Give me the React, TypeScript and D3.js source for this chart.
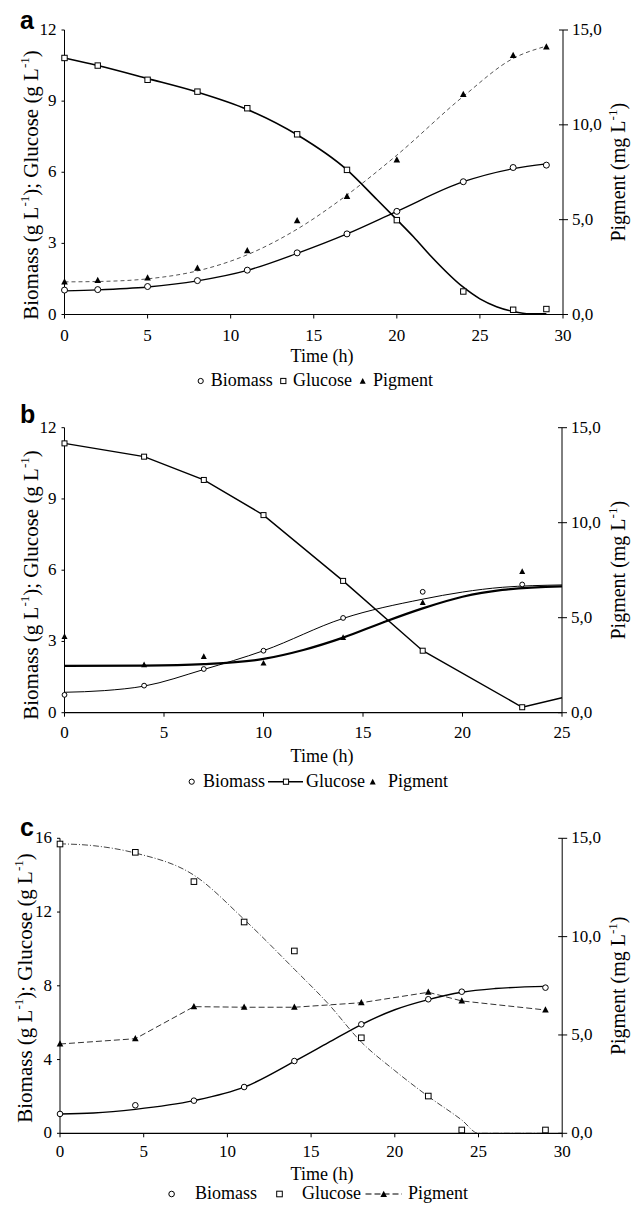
import React from "react";
import * as d3 from "d3";

// ---------- Panel a data ----------
const timeA = [0, 2, 5, 8, 11, 14, 17, 20, 24, 27, 29];
const biomassA = [1.03, 1.05, 1.18, 1.43, 1.87, 2.6, 3.4, 4.35, 5.6, 6.2, 6.3];
const glucoseA = [10.82, 10.5, 9.9, 9.4, 8.7, 7.6, 6.1, 3.98, 0.97, 0.2, 0.23];
const pigmentA = [1.71, 1.79, 1.92, 2.44, 3.36, 4.94, 6.22, 8.15, 11.6, 13.65, 14.1];
const fitBiomassA: [number, number][] = [[0, 1.0], [2, 1.04], [5, 1.16], [8, 1.42], [11, 1.86], [14, 2.58], [17, 3.4], [20, 4.35], [24, 5.6], [27, 6.15], [29, 6.35]];
const fitGlucoseA: [number, number][] = [[0, 10.82], [2, 10.5], [5, 9.95], [8, 9.38], [11, 8.65], [14, 7.58], [17, 6.1], [18.8, 4.85], [20, 4.0], [21, 3.28], [22, 2.5], [24, 1.15], [25, 0.66], [26, 0.33], [27, 0.13], [28, 0.03], [29, 0.03]];
const fitPigmentA: [number, number][] = [[0, 1.72], [2, 1.74], [5, 1.88], [8, 2.3], [11, 3.15], [14, 4.5], [17, 6.3], [20, 8.4], [24, 11.5], [27, 13.5], [29, 14.15]];

// ---------- Panel b data ----------
const timeB = [0, 4, 7, 10, 14, 18, 23];
const biomassB = [0.75, 1.14, 1.84, 2.61, 3.99, 5.09, 5.4];
const glucoseB = [11.34, 10.78, 9.8, 8.32, 5.55, 2.61, 0.23];
const pigmentB = [4.0, 2.51, 2.95, 2.6, 3.95, 5.79, 7.42];
const lineGlucoseB: [number, number][] = [[0, 11.34], [4, 10.78], [7, 9.8], [10, 8.32], [14, 5.55], [18, 2.61], [23, 0.23], [25, 0.63]];
const fitBiomassB: [number, number][] = [[0, 0.86], [2, 0.93], [4, 1.12], [7, 1.82], [10, 2.61], [14, 3.97], [18, 4.78], [20, 5.08], [22, 5.28], [25, 5.38]];
const fitPigmentB: [number, number][] = [[0, 2.46], [4, 2.48], [7, 2.56], [10, 2.83], [12, 3.3], [14, 3.95], [16, 4.75], [18, 5.49], [20, 6.1], [22, 6.46], [25, 6.65]];

// ---------- Panel c data ----------
const timeC = [0, 4.5, 8, 11, 14, 18, 22, 24, 29];
const biomassC = [1.05, 1.52, 1.77, 2.51, 3.92, 5.91, 7.27, 7.68, 7.9];
const glucoseC = [15.69, 15.24, 13.65, 11.46, 9.89, 5.18, 2.02, 0.18, 0.18];
const pigmentC = [4.54, 4.81, 6.44, 6.41, 6.41, 6.64, 7.17, 6.73, 6.27];
const fitBiomassC: [number, number][] = [[0, 1.05], [2, 1.1], [4.5, 1.3], [8, 1.77], [11, 2.5], [14, 3.9], [16, 4.9], [18, 5.9], [20, 6.7], [22, 7.25], [24, 7.65], [26, 7.85], [29, 7.97]];
const fitGlucoseC: [number, number][] = [[0, 15.7], [2, 15.6], [4.5, 15.2], [8, 14.0], [11, 11.6], [14, 8.9], [16, 7.05], [18, 4.95], [20, 3.4], [22, 2.0], [24, 0.72], [25, 0], [27, 0], [29, 0]];

// ---------- Axis ticks ----------
const xTicks30 = [0, 5, 10, 15, 20, 25, 30];
const xTicks25 = [0, 5, 10, 15, 20, 25];
const leftTicks12 = [0, 3, 6, 9, 12];
const leftTicks16 = [0, 4, 8, 12, 16];
const rightTicks = [0, 5, 10, 15];

const serifStyle = { fontFamily: "'Liberation Serif', 'Times New Roman', Times, serif" };
const sansStyle = { fontFamily: "'Liberation Sans', Arial, Helvetica, sans-serif" };

type Series = {
  pts: [number, number][];
  axis: "left" | "right";
  stroke: string;
  width: number;
  dash?: string;
  curve: any;
};
type Marks = { t: number[]; v: number[]; axis: "left" | "right"; shape: "circle" | "square" | "triangle"; size: number };

type PanelCfg = {
  letter: string;
  letterY: number;
  x0: number; x1: number; yTop: number; yBot: number;
  xMax: number; xTicks: number[];
  leftMax: number; leftTicks: number[];
  tickBase: number; timeBase: number;
  leftTitleX: number; leftTitleY: number;
  lines: Series[];
  marks: Marks[];
};

function Marker({ shape, x, y, size }: { shape: string; x: number; y: number; size: number }) {
  if (shape === "circle") return <circle cx={x} cy={y} r={size} fill="#fff" stroke="#000" strokeWidth={1} />;
  if (shape === "square") return <rect x={x - size} y={y - size} width={size * 2} height={size * 2} fill="#fff" stroke="#000" strokeWidth={1} />;
  const h = size * 1.9;
  return <path d={`M${x},${y - h * 0.6}L${x + size},${y + h * 0.4}L${x - size},${y + h * 0.4}Z`} fill="#000" />;
}

const FS = 17;

function Panel({ cfg }: { cfg: PanelCfg }) {
  const x = d3.scaleLinear().domain([0, cfg.xMax]).range([cfg.x0, cfg.x1]);
  const yL = d3.scaleLinear().domain([0, cfg.leftMax]).range([cfg.yBot, cfg.yTop]);
  const yR = d3.scaleLinear().domain([0, 15]).range([cfg.yBot, cfg.yTop]);
  const midY = (cfg.yTop + cfg.yBot) / 2;
  const fmtR = (v: number) => d3.format(".1f")(v).replace(".", ",");
  return (
    <g>
      <text x={20} y={cfg.letterY} style={sansStyle} fontWeight="bold" fontSize={25}>{cfg.letter}</text>
      {cfg.lines.map((s, i) => {
        const ys = s.axis === "left" ? yL : yR;
        const gen = d3.line<[number, number]>().x((d) => x(d[0])).y((d) => ys(d[1])).curve(s.curve);
        return <path key={i} d={gen(s.pts) || ""} fill="none" stroke={s.stroke} strokeWidth={s.width} strokeDasharray={s.dash} />;
      })}
      <line x1={cfg.x0} x2={cfg.x0} y1={cfg.yTop} y2={cfg.yBot} stroke="#000" strokeWidth={1} />
      <line x1={cfg.x1} x2={cfg.x1} y1={cfg.yTop} y2={cfg.yBot} stroke="#000" strokeWidth={1} />
      <line x1={cfg.x0} x2={cfg.x1} y1={cfg.yBot} y2={cfg.yBot} stroke="#000" strokeWidth={1.2} />
      {cfg.xTicks.map((t) => (
        <g key={"xt" + t}>
          <line x1={x(t)} x2={x(t)} y1={cfg.yBot} y2={cfg.yBot + 4} stroke="#000" />
          <text x={x(t)} y={cfg.tickBase} textAnchor="middle" style={serifStyle} fontSize={FS}>{t}</text>
        </g>
      ))}
      {cfg.leftTicks.map((t) => (
        <g key={"yl" + t}>
          <line x1={cfg.x0 - 3} x2={cfg.x0} y1={yL(t)} y2={yL(t)} stroke="#000" />
          <text x={cfg.x0 - 8} y={yL(t) + 5} textAnchor="end" style={serifStyle} fontSize={FS}>{t}</text>
        </g>
      ))}
      {rightTicks.map((t) => (
        <g key={"yr" + t}>
          <line x1={cfg.x1 - 4} x2={cfg.x1 + 5} y1={yR(t)} y2={yR(t)} stroke="#000" />
          <text x={cfg.x1 + 9} y={yR(t) + 5} style={serifStyle} fontSize={FS}>{fmtR(t)}</text>
        </g>
      ))}
      {cfg.marks.map((m, i) => {
        const ys = m.axis === "left" ? yL : yR;
        return (
          <g key={"m" + i}>
            {m.t.map((t, j) => <Marker key={j} shape={m.shape} x={x(t)} y={ys(m.v[j])} size={m.size} />)}
          </g>
        );
      })}
      <text x={322} y={cfg.timeBase} textAnchor="middle" style={serifStyle} fontSize={18}>Time (h)</text>
      <text transform={`translate(${cfg.leftTitleX},${cfg.leftTitleY}) rotate(-90)`} textAnchor="middle" style={serifStyle} fontSize={21}>
        Biomass (g L<tspan dy={-9} fontSize={13}>-1</tspan><tspan dy={9}>); Glucose (g L</tspan><tspan dy={-9} fontSize={13}>-1</tspan><tspan dy={9}>)</tspan>
      </text>
      <text transform={`translate(625,${midY}) rotate(-90)`} textAnchor="middle" style={serifStyle} fontSize={20}>
        Pigment (mg L<tspan dy={-8} fontSize={13}>-1</tspan><tspan dy={8}>)</tspan>
      </text>
    </g>
  );
}

const panels: PanelCfg[] = [
  {
    letter: "a", letterY: 29,
    x0: 64.5, x1: 563, yTop: 30, yBot: 314.5,
    xMax: 30, xTicks: xTicks30, leftMax: 12, leftTicks: leftTicks12,
    tickBase: 341, timeBase: 362, leftTitleX: 38, leftTitleY: 185,
    lines: [
      { pts: fitPigmentA, axis: "right", stroke: "#555", width: 1, dash: "4,3", curve: d3.curveMonotoneX },
      { pts: fitBiomassA, axis: "left", stroke: "#000", width: 1.3, curve: d3.curveMonotoneX },
      { pts: fitGlucoseA, axis: "left", stroke: "#000", width: 1.6, curve: d3.curveMonotoneX },
    ],
    marks: [
      { t: timeA, v: biomassA, axis: "left", shape: "circle", size: 3 },
      { t: timeA, v: glucoseA, axis: "left", shape: "square", size: 2.7 },
      { t: timeA, v: pigmentA, axis: "right", shape: "triangle", size: 3.3 },
    ],
  },
  {
    letter: "b", letterY: 423,
    x0: 64.5, x1: 562, yTop: 427.7, yBot: 712.7,
    xMax: 25, xTicks: xTicks25, leftMax: 12, leftTicks: leftTicks12,
    tickBase: 738, timeBase: 762, leftTitleX: 38, leftTitleY: 585,
    lines: [
      { pts: fitBiomassB, axis: "left", stroke: "#000", width: 1, curve: d3.curveMonotoneX },
      { pts: fitPigmentB, axis: "right", stroke: "#000", width: 2.2, curve: d3.curveMonotoneX },
      { pts: lineGlucoseB, axis: "left", stroke: "#000", width: 1.4, curve: d3.curveLinear },
    ],
    marks: [
      { t: timeB, v: biomassB, axis: "left", shape: "circle", size: 2.4 },
      { t: timeB, v: glucoseB, axis: "left", shape: "square", size: 2.5 },
      { t: timeB, v: pigmentB, axis: "right", shape: "triangle", size: 3 },
    ],
  },
  {
    letter: "c", letterY: 836,
    x0: 60, x1: 562.2, yTop: 838.3, yBot: 1133.3,
    xMax: 30, xTicks: xTicks30, leftMax: 16, leftTicks: leftTicks16,
    tickBase: 1157, timeBase: 1180, leftTitleX: 32, leftTitleY: 988,
    lines: [
      { pts: fitGlucoseC, axis: "left", stroke: "#444", width: 1, dash: "6,2,1,2", curve: d3.curveMonotoneX },
      { pts: timeC.map((t, i) => [t, pigmentC[i]] as [number, number]), axis: "right", stroke: "#333", width: 1, dash: "6,3", curve: d3.curveLinear },
      { pts: fitBiomassC, axis: "left", stroke: "#000", width: 1.4, curve: d3.curveMonotoneX },
    ],
    marks: [
      { t: timeC, v: biomassC, axis: "left", shape: "circle", size: 2.8 },
      { t: timeC, v: glucoseC, axis: "left", shape: "square", size: 2.8 },
      { t: timeC, v: pigmentC, axis: "right", shape: "triangle", size: 3.3 },
    ],
  },
];

function Legend() {
  return (
    <g style={serifStyle} fontSize={18}>
      <Marker shape="circle" x={200.7} y={381} size={2.6} />
      <text x={210.7} y={386}>Biomass</text>
      <Marker shape="square" x={283.3} y={381} size={2.6} />
      <text x={293} y={386}>Glucose</text>
      <Marker shape="triangle" x={362.7} y={381.5} size={3} />
      <text x={373} y={386}>Pigment</text>

      <Marker shape="circle" x={191.7} y={781.7} size={2.6} />
      <text x={203} y={787}>Biomass</text>
      <line x1={268} x2={303} y1={781.7} y2={781.7} stroke="#000" strokeWidth={1.4} />
      <Marker shape="square" x={286} y={781.7} size={2.6} />
      <text x={306} y={787}>Glucose</text>
      <Marker shape="triangle" x={372.7} y={782.2} size={3} />
      <text x={388} y={787}>Pigment</text>

      <Marker shape="circle" x={171.6} y={1194} size={2.8} />
      <text x={195} y={1199}>Biomass</text>
      <Marker shape="square" x={279.5} y={1194} size={2.8} />
      <text x={302} y={1199}>Glucose</text>
      <line x1={365.5} x2={402} y1={1194} y2={1194} stroke="#000" strokeWidth={1.2} strokeDasharray="6,3" />
      <Marker shape="triangle" x={383.7} y={1194.5} size={3.3} />
      <text x={408} y={1199}>Pigment</text>
    </g>
  );
}

export default function App() {
  return (
    <svg width={634} height={1205} style={{ position: "absolute", left: 0, top: 0, background: "#fff" }}>
      <rect width={634} height={1205} fill="#fff" />
      {panels.map((p) => <Panel key={p.letter} cfg={p} />)}
      <Legend />
    </svg>
  );
}
